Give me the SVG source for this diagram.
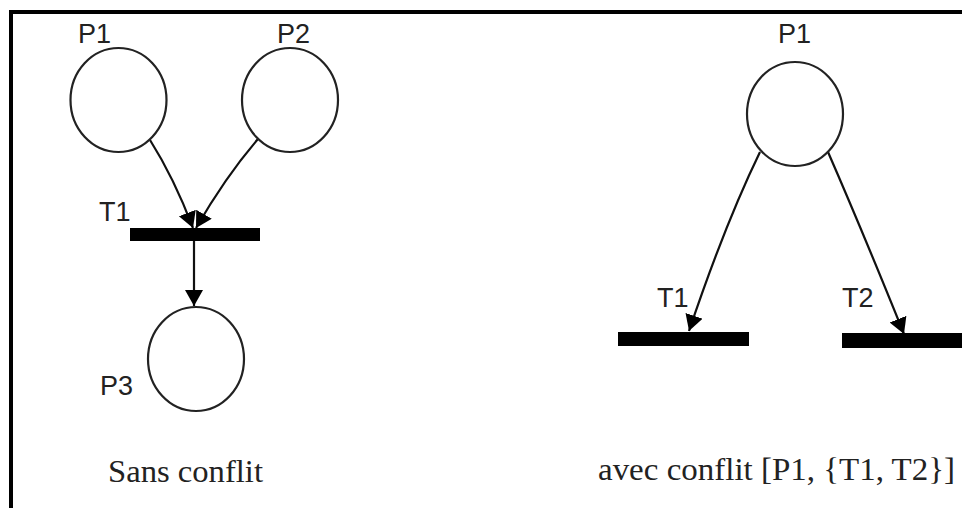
<svg xmlns="http://www.w3.org/2000/svg" width="962" height="508" viewBox="0 0 962 508">
<style>
.place{fill:#fff;stroke:#222;stroke-width:2.2}
.trans{fill:#000}
.lbl{font-family:"Liberation Sans",Arial,sans-serif;font-size:27px;fill:#222}
.cap{font-family:"Liberation Serif","Times New Roman",serif;font-size:32px;fill:#222}
.arc{fill:none;stroke:#111;stroke-width:2.2}
</style>
<defs>
<marker id="ah" markerUnits="userSpaceOnUse" markerWidth="18" markerHeight="20" refX="16" refY="9" orient="auto">
<path d="M0,0 L16,9 L0,18 z" fill="#000"/>
</marker>
</defs>
<rect width="962" height="508" fill="#fff"/>
<path d="M11,508 L11,12 L962,12" fill="none" stroke="#000" stroke-width="4"/>
<g id="connectors">
<path class="arc" d="M150,140 Q174,178 193,228" marker-end="url(#ah)"/>
<path class="arc" d="M258,139 Q226,176 196,228" marker-end="url(#ah)"/>
<path class="arc" d="M194,241 L194,306" marker-end="url(#ah)"/>
<path class="arc" d="M760,152 Q725,224 689,331" marker-end="url(#ah)"/>
<path class="arc" d="M828,152 Q862,230 904,334" marker-end="url(#ah)"/>
</g>
<g id="P1L">
<ellipse class="place" cx="118.5" cy="100" rx="48" ry="52"/>
<text class="lbl" x="78" y="43">P1</text>
</g>
<g id="P2L">
<ellipse class="place" cx="290" cy="100" rx="48" ry="52"/>
<text class="lbl" x="277" y="43">P2</text>
</g>
<g id="T1L">
<rect class="trans" x="130" y="228" width="130" height="13"/>
<text class="lbl" x="99" y="221">T1</text>
</g>
<g id="P3L">
<ellipse class="place" cx="196" cy="359" rx="48" ry="52"/>
<text class="lbl" x="100" y="395">P3</text>
</g>
<g id="P1R">
<ellipse class="place" cx="795" cy="114" rx="48" ry="52"/>
<text class="lbl" x="778" y="43">P1</text>
</g>
<g id="T1R">
<rect class="trans" x="618" y="332" width="131" height="14"/>
<text class="lbl" x="657" y="307">T1</text>
</g>
<g id="T2R">
<rect class="trans" x="842" y="333" width="122" height="15"/>
<text class="lbl" x="842" y="307">T2</text>
</g>
<text class="cap" x="108" y="482" textLength="155" lengthAdjust="spacingAndGlyphs">Sans conflit</text>
<text class="cap" x="598" y="480" textLength="357" lengthAdjust="spacingAndGlyphs">avec conflit [P1, {T1, T2}]</text>
</svg>
